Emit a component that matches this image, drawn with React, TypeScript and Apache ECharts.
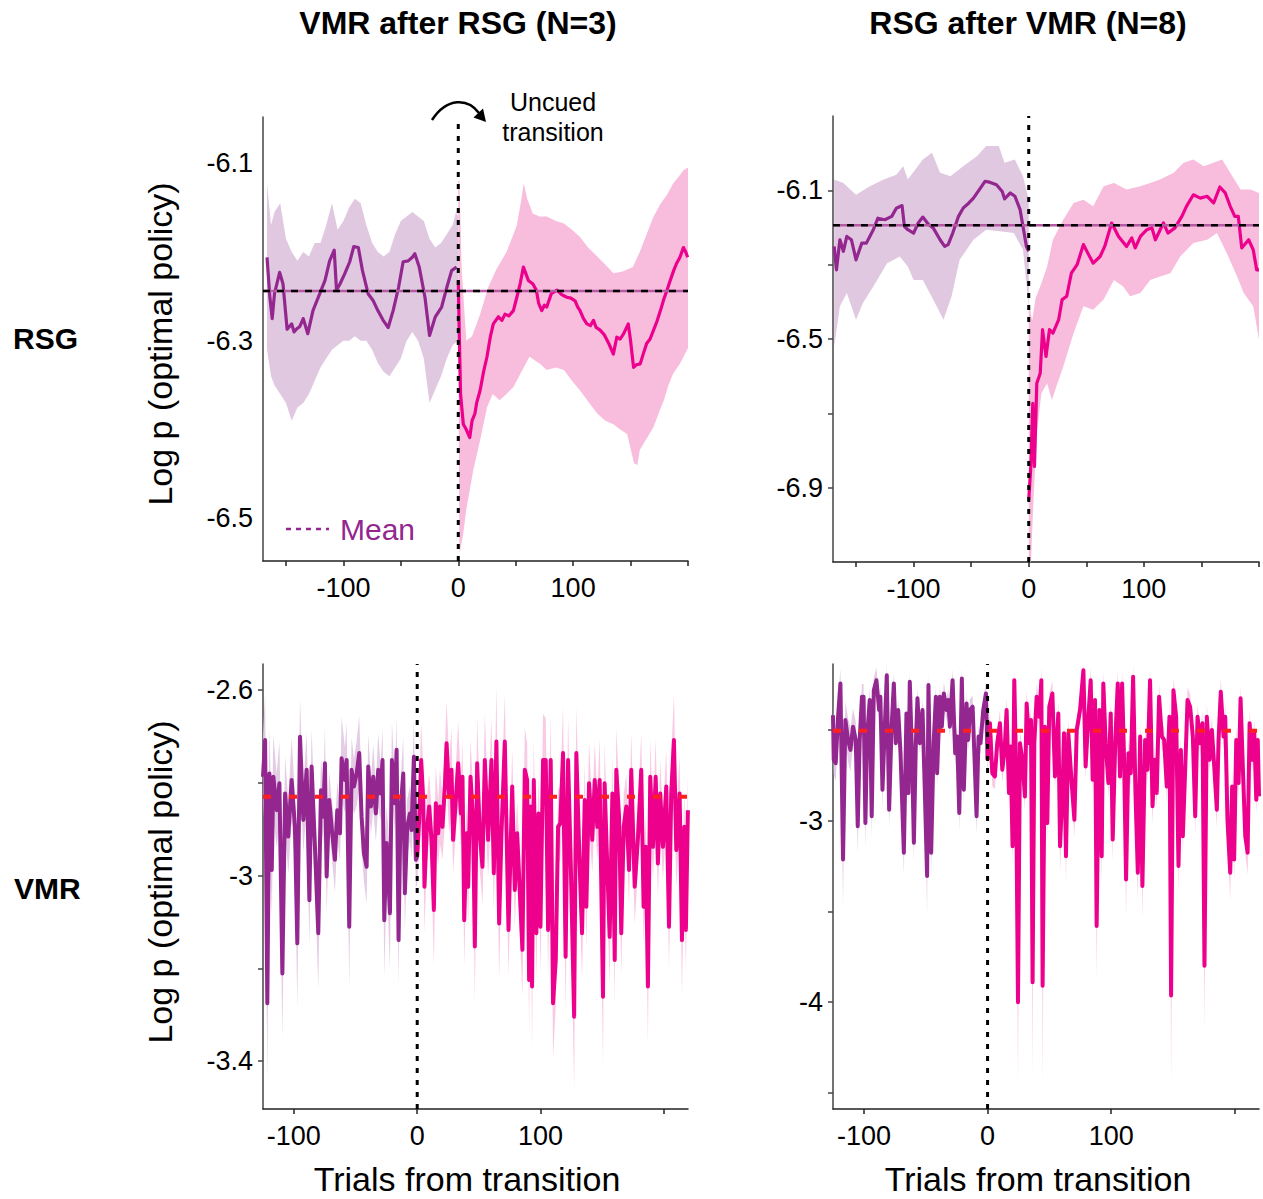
import React, { useEffect, useRef } from "react";
import * as echarts from "echarts";

const FONT = "'Liberation Sans', Arial, Helvetica, sans-serif";
const PURPLE = "#93278f";
const PINK = "#ec008c";
const PURPLE_BAND = "#e1c8e1";
const PINK_BAND = "#f8bddd";
const MEAN_MAUVE = "#b65aa5";
const MEAN_RED = "#ff1f1f";

const colTitles = ["VMR after RSG (N=3)", "RSG after VMR (N=8)"];
const rowTitles = ["RSG", "VMR"];
const yAxisTitle = "Log p (optimal policy)";
const xAxisTitle = "Trials from transition";
const transitionNote = ["Uncued", "transition"];
const legendLabel = "Mean";

const topXRange = [-170, 200];
const bottomXRange = [-125, 219.5];
const topXTicks = [-150, -100, -50, 0, 50, 100, 150, 200];
const bottomXTicks = [-100, 0, 100, 200];
const xLabels = [-100, 0, 100];

const tlYRange = [-6.548, -6.048];
const tlYLabels = [-6.5, -6.3, -6.1];
const trYRange = [-7.1, -5.9];
const trYTicks = [-6.9, -6.7, -6.5, -6.3, -6.1];
const trYLabels = [-6.9, -6.5, -6.1];
const blYRange = [-3.503, -2.544];
const blYTicks = [-3.4, -3.2, -3, -2.8, -2.6];
const blYLabels = [-3.4, -3, -2.6];
const brYRange = [-4.588, -2.138];
const brYTicks = [-4.5, -4, -3.5, -3, -2.5];
const brYLabels = [-4, -3];

const tlMean = -6.244;
const trMean = -6.194;
const blMean = -2.83;
const brMean = -2.505;

// ---------- Top-left (RSG, VMR after RSG) ----------
const tlPurple = [[-166.5,-6.206],[-164,-6.251],[-162,-6.275],[-160,-6.247],[-155.5,-6.223],[-152.6,-6.236],[-149,-6.287],[-145,-6.281],[-143,-6.29],[-141,-6.287],[-138,-6.284],[-135,-6.275],[-131,-6.292],[-126.5,-6.266],[-120.6,-6.247],[-116,-6.232],[-112,-6.21],[-108,-6.198],[-106,-6.243],[-103,-6.236],[-99,-6.225],[-94.5,-6.211],[-91,-6.194],[-87,-6.195],[-83.4,-6.221],[-78.5,-6.247],[-74,-6.255],[-70,-6.266],[-65.4,-6.277],[-61,-6.285],[-56.7,-6.266],[-52,-6.24],[-48,-6.211],[-43.6,-6.21],[-40,-6.206],[-37.8,-6.202],[-34,-6.217],[-29,-6.251],[-25,-6.294],[-20,-6.273],[-14.5,-6.262],[-10,-6.24],[-5.8,-6.221],[-1.5,-6.217]];
const tlPurpleUpper = [[-166.5,-6.123],[-163,-6.17],[-160,-6.155],[-155,-6.145],[-150,-6.185],[-145,-6.2],[-140,-6.21],[-135,-6.2],[-130,-6.205],[-125,-6.19],[-120,-6.19],[-115,-6.17],[-110,-6.145],[-105,-6.175],[-100,-6.165],[-95,-6.15],[-90,-6.14],[-85,-6.145],[-80,-6.17],[-75,-6.19],[-70,-6.2],[-65,-6.205],[-60,-6.2],[-55,-6.18],[-50,-6.165],[-45,-6.16],[-40,-6.155],[-35,-6.16],[-30,-6.165],[-25,-6.185],[-20,-6.195],[-15,-6.19],[-10,-6.18],[-5,-6.17],[-2,-6.155],[0,-6.16]];
const tlPurpleLower = [[-166.5,-6.31],[-163,-6.34],[-160,-6.35],[-155,-6.36],[-150,-6.37],[-145,-6.39],[-140,-6.375],[-135,-6.37],[-130,-6.36],[-125,-6.345],[-120,-6.33],[-115,-6.32],[-110,-6.31],[-105,-6.305],[-100,-6.3],[-95,-6.3],[-90,-6.295],[-85,-6.3],[-80,-6.3],[-75,-6.31],[-70,-6.325],[-65,-6.335],[-60,-6.34],[-55,-6.33],[-50,-6.32],[-45,-6.3],[-40,-6.29],[-35,-6.3],[-30,-6.32],[-25,-6.37],[-20,-6.355],[-15,-6.34],[-10,-6.32],[-5,-6.305],[0,-6.3]];
const tlPink = [[0,-6.232],[1,-6.3],[2,-6.36],[4.4,-6.394],[7,-6.4],[10,-6.409],[12,-6.39],[14.5,-6.382],[16,-6.37],[19,-6.356],[22,-6.335],[25,-6.318],[28,-6.295],[30.5,-6.281],[35,-6.273],[38,-6.277],[40.7,-6.27],[44,-6.272],[48,-6.266],[51,-6.251],[54,-6.235],[56.7,-6.217],[59,-6.225],[61,-6.232],[65,-6.236],[68,-6.243],[70,-6.258],[72.7,-6.266],[75,-6.26],[77,-6.262],[81,-6.247],[86,-6.243],[90,-6.248],[94.5,-6.251],[98,-6.252],[101.7,-6.255],[104,-6.262],[106,-6.266],[109,-6.275],[112,-6.281],[115,-6.283],[117.7,-6.277],[120,-6.285],[123.5,-6.288],[127,-6.293],[131,-6.303],[135,-6.315],[138,-6.296],[141,-6.298],[144,-6.292],[148,-6.281],[150,-6.3],[152.6,-6.33],[155,-6.327],[158.4,-6.326],[161,-6.315],[164,-6.303],[167,-6.298],[170,-6.288],[173,-6.278],[176,-6.266],[179,-6.253],[181.7,-6.243],[184.5,-6.232],[187.5,-6.221],[190,-6.213],[193,-6.206],[196,-6.195],[198,-6.2],[199.7,-6.206]];
const tlPinkUpper = [[0,-6.12],[1,-6.12],[3,-6.22],[7,-6.3],[12,-6.295],[19,-6.27],[26,-6.24],[33,-6.22],[42,-6.2],[51,-6.17],[55,-6.14],[57,-6.123],[60,-6.14],[65,-6.157],[71,-6.16],[77,-6.16],[85,-6.165],[92,-6.168],[99,-6.175],[106,-6.183],[113,-6.195],[121,-6.205],[130,-6.217],[135,-6.224],[143,-6.222],[152,-6.217],[158,-6.2],[164,-6.18],[170,-6.16],[176,-6.146],[182,-6.135],[187,-6.123],[192,-6.115],[196,-6.108],[200,-6.105]];
const tlPinkLower = [[0,-6.3],[1,-6.54],[4,-6.52],[7,-6.49],[13,-6.446],[19,-6.412],[25,-6.375],[30,-6.36],[36,-6.367],[42,-6.36],[48,-6.352],[55,-6.335],[62,-6.318],[71,-6.326],[77,-6.333],[85,-6.33],[92,-6.333],[99,-6.345],[106,-6.356],[114,-6.37],[121,-6.382],[128,-6.39],[135,-6.394],[141,-6.4],[147,-6.405],[153,-6.438],[156,-6.44],[158,-6.423],[164,-6.41],[170,-6.397],[175,-6.38],[179,-6.367],[183,-6.35],[187,-6.337],[193,-6.326],[200,-6.308]];

// ---------- Top-right (RSG, RSG after VMR) ----------
const trPurple = [[-169,-6.251],[-167,-6.314],[-164,-6.233],[-161,-6.264],[-158,-6.224],[-154,-6.233],[-150,-6.287],[-145,-6.242],[-141,-6.242],[-135,-6.206],[-131,-6.175],[-125,-6.179],[-119,-6.17],[-115,-6.148],[-110,-6.141],[-108,-6.197],[-105,-6.206],[-100,-6.215],[-96,-6.188],[-92,-6.172],[-87,-6.192],[-83,-6.201],[-77,-6.233],[-73,-6.251],[-70,-6.246],[-66,-6.215],[-61,-6.17],[-57,-6.148],[-52,-6.134],[-48,-6.121],[-42,-6.094],[-38,-6.076],[-34,-6.078],[-28,-6.085],[-23,-6.103],[-21,-6.123],[-16,-6.107],[-12,-6.116],[-7.5,-6.152],[-4,-6.215],[-2,-6.251],[0,-6.264]];
const trPurpleUpper = [[-169,-6.071],[-161,-6.08],[-150,-6.112],[-138,-6.089],[-126,-6.071],[-115,-6.058],[-109,-6.035],[-105,-6.071],[-92,-6.017],[-84,-5.999],[-77,-6.053],[-68,-6.062],[-57,-6.035],[-45,-6.008],[-37,-5.981],[-26,-5.981],[-21,-6.026],[-12,-6.017],[-5,-6.062],[0,-6.125]];
const trPurpleLower = [[-169,-6.52],[-164,-6.412],[-158,-6.376],[-150,-6.448],[-144,-6.403],[-135,-6.359],[-123,-6.296],[-112,-6.278],[-105,-6.305],[-100,-6.341],[-92,-6.341],[-83,-6.394],[-74,-6.448],[-67,-6.385],[-60,-6.287],[-48,-6.233],[-37,-6.206],[-25,-6.21],[-13,-6.215],[-5,-6.26],[0,-6.412]];
const trPink = [[0,-6.933],[2,-6.834],[3.5,-6.673],[5,-6.843],[7,-6.619],[10,-6.592],[12,-6.475],[15,-6.547],[18,-6.475],[21,-6.484],[26,-6.448],[29,-6.394],[33,-6.385],[37,-6.323],[42,-6.3],[47.5,-6.246],[52,-6.273],[56,-6.296],[62,-6.278],[66,-6.251],[72,-6.188],[78,-6.224],[85,-6.251],[89.5,-6.228],[92.5,-6.255],[97,-6.224],[102.6,-6.206],[107,-6.201],[110,-6.233],[117,-6.188],[121,-6.215],[127,-6.201],[133,-6.17],[137,-6.143],[143,-6.112],[149,-6.121],[155,-6.116],[160.6,-6.134],[166,-6.091],[170.7,-6.107],[175,-6.143],[179,-6.17],[182,-6.17],[185,-6.255],[191,-6.233],[195,-6.26],[198,-6.314],[200,-6.314]];
const trPinkUpper = [[0,-6.4],[3,-6.45],[6,-6.39],[10,-6.359],[16,-6.305],[21,-6.233],[30,-6.179],[39,-6.134],[47.5,-6.125],[56,-6.143],[65,-6.089],[74,-6.08],[85,-6.098],[97,-6.089],[105.5,-6.08],[114,-6.071],[126,-6.053],[134.5,-6.026],[143,-6.017],[152,-6.035],[168,-6.017],[175,-6.053],[184,-6.098],[192.5,-6.098],[200,-6.107]];
const trPinkLower = [[0,-7.1],[2,-7.1],[3.5,-6.978],[7,-6.754],[11,-6.646],[16,-6.619],[20,-6.664],[24,-6.628],[30,-6.574],[39,-6.484],[47.5,-6.412],[56,-6.421],[65,-6.394],[74,-6.341],[82,-6.359],[88,-6.385],[97,-6.376],[105.5,-6.341],[114,-6.332],[123,-6.323],[131.6,-6.278],[143,-6.242],[155,-6.233],[163.5,-6.215],[172,-6.269],[181,-6.332],[186.7,-6.376],[195,-6.412],[200,-6.502]];

// ---------- Bottom-left (VMR, VMR after RSG): [trial, mean, sem] ----------
const blPurple = [[-125,-2.787,0.09],[-123.3,-2.708,0.1],[-121.5,-3.275,0.17],[-119.8,-2.78,0.1],[-117.9,-2.988,0.1],[-116.6,-2.787,0.09],[-113.9,-2.859,0.08],[-111.7,-2.801,0.09],[-109.3,-3.211,0.14],[-107.1,-2.823,0.08],[-104.5,-2.916,0.08],[-101.8,-2.794,0.09],[-99.1,-2.895,0.07],[-97.2,-3.146,0.14],[-95,-2.701,0.08],[-92.3,-2.88,0.07],[-89.6,-2.772,0.08],[-87.4,-3.053,0.1],[-85.6,-2.765,0.08],[-82.9,-2.938,0.07],[-80.2,-3.124,0.12],[-78,-2.816,0.07],[-76.1,-2.873,0.06],[-74.8,-2.758,0.08],[-73.4,-3.002,0.08],[-71.3,-2.837,0.06],[-69.4,-2.895,0.06],[-66.7,-2.966,0.07],[-64.8,-2.859,0.06],[-62.6,-2.909,0.06],[-61.3,-2.747,0.09],[-58.6,-2.794,0.07],[-57.2,-2.751,0.08],[-55.1,-3.11,0.13],[-53.2,-2.772,0.07],[-51.3,-2.808,0.06],[-49.1,-2.78,0.07],[-47,-2.736,0.08],[-45.1,-2.873,0.07],[-43.2,-2.952,0.06],[-41,-2.981,0.08],[-39.7,-2.765,0.07],[-37.5,-2.851,0.06],[-35.6,-2.787,0.07],[-33.5,-2.866,0.06],[-31.6,-2.772,0.08],[-29.7,-2.823,0.06],[-28.1,-2.751,0.07],[-26.7,-3.096,0.12],[-24.8,-2.93,0.08],[-23.5,-2.995,0.1],[-22.1,-3.081,0.12],[-20.5,-2.751,0.08],[-18.1,-2.844,0.06],[-16.7,-2.729,0.07],[-15.1,-3.139,0.1],[-13.5,-2.859,0.06],[-11.3,-2.78,0.08],[-10,-3.038,0.08],[-8.1,-2.895,0.06],[-5.9,-2.866,0.06],[-4.6,-2.902,0.06],[-2.7,-2.744,0.08],[-1.1,-2.966,0.06],[0,-2.959,0.06]];
const blPink = [[0,-2.959,0.06],[1.6,-2.88,0.07],[3.2,-2.751,0.08],[4.9,-2.837,0.07],[5.9,-3.024,0.1],[7.6,-2.909,0.07],[9.7,-2.851,0.07],[11.6,-2.923,0.07],[13.5,-3.074,0.12],[15.1,-2.844,0.08],[17,-2.909,0.07],[18.4,-2.851,0.08],[20.5,-2.895,0.07],[22.4,-2.808,0.08],[23.8,-2.715,0.09],[25.9,-2.83,0.08],[27.8,-2.772,0.09],[29.1,-2.923,0.07],[31.3,-2.837,0.07],[33.2,-2.758,0.09],[35.4,-2.866,0.07],[36.7,-2.787,0.08],[38.1,-3.096,0.1],[40,-2.909,0.07],[41.3,-3.024,0.08],[43.2,-2.787,0.08],[45.3,-2.88,0.07],[46.7,-3.153,0.12],[48.6,-2.758,0.1],[50.7,-2.909,0.08],[52.9,-2.981,0.08],[54.8,-2.751,0.1],[57.5,-2.923,0.08],[60.2,-2.751,0.09],[62.1,-2.995,0.08],[64.2,-2.711,0.12],[66.4,-3.103,0.12],[68.3,-2.909,0.08],[71,-2.711,0.1],[74,-3.117,0.1],[77,-2.808,0.08],[79.1,-3.031,0.08],[81,-2.909,0.07],[83.2,-3.038,0.09],[85.3,-3.16,0.1],[87.2,-2.772,0.09],[89.1,-2.794,0.08],[90.7,-3.225,0.12],[91.8,-2.851,0.09],[93.1,-3.239,0.14],[94.5,-2.794,0.09],[96.6,-3.124,0.1],[98.3,-2.866,0.08],[99.9,-3.11,0.1],[102,-2.751,0.1],[104.2,-2.751,0.09],[106.1,-3.117,0.1],[108.2,-2.751,0.1],[110.1,-3.275,0.12],[112.3,-3.182,0.1],[114.2,-2.895,0.08],[116,-2.887,0.08],[118.2,-2.736,0.1],[120.3,-3.175,0.12],[122.3,-2.751,0.09],[124.4,-2.966,0.08],[127.2,-3.304,0.16],[129,-2.736,0.1],[131.7,-2.981,0.08],[133.6,-3.124,0.1],[135.8,-2.837,0.08],[137.1,-3.067,0.09],[139.3,-2.801,0.09],[141.9,-2.923,0.07],[143.9,-2.794,0.08],[146,-2.895,0.07],[147.9,-2.794,0.09],[150.6,-3.261,0.15],[151.9,-2.801,0.09],[153.9,-2.966,0.08],[156,-3.132,0.1],[158.2,-2.823,0.08],[160.1,-3.182,0.1],[161.4,-2.772,0.09],[163.6,-2.873,0.07],[165.4,-3.124,0.09],[167.4,-2.895,0.07],[169.5,-2.851,0.07],[171.7,-2.988,0.07],[173.5,-2.772,0.08],[176.3,-3.024,0.08],[179,-2.916,0.07],[181.6,-2.772,0.08],[183.5,-3.067,0.08],[185.2,-2.938,0.07],[187,-3.239,0.12],[188.9,-2.787,0.08],[191.1,-2.938,0.07],[193.3,-2.787,0.08],[195.1,-2.974,0.07],[197,-2.823,0.07],[199.2,-2.938,0.07],[201.9,-2.808,0.08],[204.1,-3.11,0.09],[205.9,-2.823,0.08],[208.1,-2.708,0.1],[210,-2.945,0.08],[212.7,-2.823,0.08],[214.6,-3.139,0.12],[216.5,-2.895,0.08],[217.8,-3.117,0.09],[219.4,-2.859,0.08]];

// ---------- Bottom-right (VMR, RSG after VMR): [trial, mean, sem] ----------
const brPurple = [[-125,-2.42,0.1],[-124.4,-2.665,0.08],[-122.8,-2.684,0.1],[-120.9,-2.428,0.1],[-119,-2.245,0.08],[-116.9,-3.214,0.25],[-115,-2.446,0.1],[-112.8,-2.556,0.12],[-110.9,-2.611,0.12],[-108.8,-2.483,0.1],[-106.6,-2.556,0.1],[-105,-3.031,0.15],[-103.4,-2.556,0.08],[-101.6,-2.318,0.07],[-100.3,-2.318,0.07],[-98.8,-3.013,0.14],[-97.4,-2.537,0.07],[-95.3,-2.336,0.07],[-93.7,-2.976,0.12],[-92,-2.282,0.07],[-89.9,-2.227,0.07],[-87.7,-2.391,0.06],[-86.7,-2.318,0.06],[-85,-2.83,0.1],[-83.1,-2.483,0.06],[-81.5,-2.2,0.07],[-79.6,-2.94,0.1],[-77.7,-2.501,0.06],[-75.8,-2.245,0.06],[-74.2,-2.574,0.06],[-72.3,-2.391,0.06],[-70.4,-2.629,0.07],[-67.7,-3.177,0.12],[-65.6,-2.41,0.06],[-64,-2.848,0.08],[-62.9,-2.236,0.06],[-61,-2.665,0.06],[-59.6,-3.122,0.1],[-58,-2.574,0.06],[-56.7,-2.327,0.06],[-54.8,-2.574,0.06],[-52.6,-2.391,0.06],[-50.7,-2.848,0.08],[-48.9,-3.305,0.2],[-47.8,-2.254,0.07],[-45.6,-3.177,0.12],[-43.6,-2.574,0.07],[-41.8,-2.318,0.06],[-40.8,-2.739,0.07],[-38.6,-2.318,0.06],[-37,-2.483,0.06],[-35.4,-2.3,0.06],[-33.2,-2.391,0.06],[-31.8,-2.336,0.06],[-30.5,-2.483,0.06],[-28.3,-2.227,0.06],[-26.2,-2.629,0.07],[-24.6,-2.537,0.06],[-22.9,-2.958,0.1],[-20.8,-2.218,0.06],[-19.2,-2.83,0.08],[-17,-2.355,0.06],[-15.7,-2.556,0.06],[-14.3,-2.391,0.06],[-12.1,-2.373,0.06],[-10.5,-2.665,0.07],[-8.9,-2.976,0.1],[-7.3,-2.537,0.06],[-5.7,-2.574,0.06],[-3.5,-2.391,0.06],[-1.3,-2.3,0.06],[0,-2.665,0.07]];
const brPink = [[0,-2.665,0.07],[1.9,-2.464,0.07],[3.8,-2.739,0.07],[5.9,-2.757,0.07],[7.8,-2.574,0.07],[10,-2.464,0.07],[11.9,-2.72,0.07],[13.8,-2.611,0.07],[15.4,-2.391,0.07],[17.3,-2.848,0.08],[18.6,-2.592,0.07],[20.2,-3.141,0.12],[21.6,-2.227,0.07],[22.9,-2.665,0.07],[24.6,-4,0.45],[26.2,-2.574,0.07],[28.1,-2.665,0.07],[30.2,-2.867,0.08],[31.6,-2.355,0.07],[33.7,-2.574,0.07],[35.1,-2.446,0.07],[36.4,-3.89,0.5],[37.8,-2.574,0.07],[39.7,-2.318,0.07],[41.8,-2.428,0.07],[43.5,-2.227,0.07],[44.5,-3.909,0.55],[46.4,-2.483,0.07],[48.3,-3.013,0.1],[49.9,-2.373,0.07],[52.4,-2.3,0.07],[54.5,-2.757,0.07],[57.2,-2.41,0.07],[58.6,-3.141,0.15],[60.7,-2.812,0.08],[61.8,-2.519,0.07],[63.4,-3.196,0.15],[65.3,-2.519,0.07],[68,-2.793,0.08],[70.2,-2.995,0.1],[72.1,-2.501,0.07],[74.8,-2.391,0.07],[77.5,-2.172,0.07],[79.3,-2.702,0.07],[81.5,-2.428,0.07],[83.4,-2.227,0.07],[85,-2.775,0.08],[86.9,-2.336,0.07],[88.2,-3.58,0.3],[90.4,-2.391,0.07],[92.3,-3.196,0.15],[93.6,-2.245,0.07],[95.5,-2.574,0.07],[97.7,-2.793,0.08],[99.6,-2.41,0.07],[101.2,-3.104,0.12],[103.3,-2.556,0.07],[105.3,-2.245,0.07],[107.1,-2.757,0.08],[108.8,-2.245,0.07],[110.4,-2.665,0.07],[112,-3.324,0.2],[113.9,-2.629,0.07],[115.8,-2.739,0.08],[117.7,-2.208,0.07],[119.6,-2.848,0.08],[121.5,-3.287,0.15],[123.4,-2.537,0.07],[125.2,-3.36,0.18],[127.4,-2.556,0.07],[129.3,-2.72,0.07],[131.4,-2.227,0.07],[133.4,-2.921,0.1],[135.2,-2.665,0.07],[136.8,-2.848,0.08],[138.7,-2.318,0.07],[140.9,-2.537,0.07],[142.8,-2.556,0.07],[144.9,-2.812,0.08],[147.1,-2.428,0.07],[148.4,-3.963,0.5],[150.3,-2.282,0.07],[152.5,-2.428,0.07],[154.4,-3.25,0.15],[156.3,-2.611,0.07],[157.9,-3.086,0.1],[159.8,-2.72,0.07],[161.7,-2.336,0.07],[163.8,-2.373,0.07],[166,-2.537,0.07],[167.9,-2.976,0.1],[169.8,-2.428,0.07],[171.9,-2.574,0.07],[173.8,-2.464,0.07],[175.4,-3.799,0.35],[177.3,-2.428,0.07],[179.5,-2.665,0.07],[181.4,-2.501,0.07],[183.3,-2.702,0.07],[185.4,-2.94,0.1],[186.8,-2.556,0.07],[188.6,-2.291,0.07],[190.8,-2.537,0.07],[192.2,-2.428,0.07],[194,-2.995,0.1],[196.2,-3.287,0.15],[197.8,-2.812,0.08],[199.4,-3.214,0.12],[201.1,-2.556,0.07],[203,-2.793,0.08],[204.6,-2.327,0.07],[206.5,-2.72,0.07],[208.4,-3.086,0.1],[210.3,-3.177,0.12],[211.9,-2.464,0.07],[213.8,-2.665,0.07],[215.7,-2.519,0.07],[217.3,-2.885,0.08],[218.5,-2.556,0.07],[219.5,-2.867,0.08]];

const GRIDS = [
  { left: 263, top: 117, width: 425, height: 444 },
  { left: 833, top: 116, width: 426, height: 446 },
  { left: 263, top: 664, width: 425, height: 445 },
  { left: 833, top: 664, width: 426, height: 445 },
];

function bandSeries(idx: number, upper: number[][], lower: number[][], fill: string, opacity: number) {
  const poly = upper.concat(lower.slice().reverse());
  return {
    type: "custom",
    xAxisIndex: idx,
    yAxisIndex: idx,
    silent: true,
    clip: true,
    z: 1,
    data: [poly[0]],
    renderItem: (_p: any, api: any) => {
      const points = poly.map((p) => api.coord(p));
      return { type: "polygon", shape: { points }, style: { fill, opacity } };
    },
  };
}

function semBand(idx: number, rows: number[][], yr: number[], fill: string, opacity: number) {
  const up = rows.map((r) => [r[0], Math.min(r[1] + r[2], yr[1])]);
  const lo = rows.map((r) => [r[0], Math.max(r[1] - r[2], yr[0])]);
  return bandSeries(idx, up, lo, fill, opacity);
}

function lineSeries(idx: number, data: number[][], color: string, width: number, z = 3) {
  return {
    type: "line",
    xAxisIndex: idx,
    yAxisIndex: idx,
    data: data.map((r) => [r[0], r[1]]),
    showSymbol: false,
    symbol: "none",
    silent: true,
    clip: true,
    z,
    lineStyle: { color, width, join: "round" },
  };
}

function hLine(idx: number, xr: number[], y: number, color: string, width: number, dash: any, z: number) {
  return {
    type: "line",
    xAxisIndex: idx,
    yAxisIndex: idx,
    data: [[xr[0], y], [xr[1], y]],
    showSymbol: false,
    symbol: "none",
    silent: true,
    z,
    lineStyle: { color, width, type: dash, opacity: 1 },
  };
}

function vLine(idx: number, yr: number[]) {
  return {
    type: "line",
    xAxisIndex: idx,
    yAxisIndex: idx,
    data: [[0, yr[0]], [0, yr[1]]],
    showSymbol: false,
    symbol: "none",
    silent: true,
    z: 6,
    lineStyle: { color: "#000", width: 3, type: [5, 7] },
  };
}

function xAxisCfg(idx: number, xr: number[], ticks: number[]) {
  return {
    type: "value",
    gridIndex: idx,
    min: xr[0],
    max: xr[1],
    splitLine: { show: false },
    axisLine: { show: true, onZero: false, lineStyle: { color: "#222", width: 1.5 } },
    axisTick: { show: true, length: 5, customValues: ticks, lineStyle: { color: "#222", width: 1.5 } },
    axisLabel: { customValues: xLabels, fontSize: 27, color: "#000", fontFamily: FONT, margin: 13 },
  };
}

function yAxisCfg(idx: number, yr: number[], ticks: number[] | null, labels: number[]) {
  return {
    type: "value",
    gridIndex: idx,
    min: yr[0],
    max: yr[1],
    splitLine: { show: false },
    axisLine: { show: true, onZero: false, lineStyle: { color: "#444", width: 1.5 } },
    axisTick: ticks
      ? { show: true, length: 5, customValues: ticks, lineStyle: { color: "#444", width: 1.5 } }
      : { show: false },
    axisLabel: { customValues: labels, fontSize: 27, color: "#000", fontFamily: FONT, margin: 10 },
  };
}

function txt(x: number, y: number, text: string, size: number, opts: any = {}) {
  return {
    type: "text",
    x,
    y,
    silent: true,
    rotation: opts.rotation || 0,
    style: {
      text,
      fontSize: size,
      fontFamily: FONT,
      fontWeight: opts.bold ? "bold" : "normal",
      fill: opts.fill || "#000",
      align: opts.align || "center",
      verticalAlign: "middle",
    },
  };
}

export default function App() {
  const ref = useRef<HTMLDivElement>(null);
  useEffect(() => {
    if (!ref.current) return;
    const chart = echarts.init(ref.current, null, { renderer: "svg" });
    const series: any[] = [
      // top-left
      bandSeries(0, tlPurpleUpper, tlPurpleLower, PURPLE_BAND, 1),
      bandSeries(0, tlPinkUpper, tlPinkLower, PINK_BAND, 1),
      lineSeries(0, tlPurple, PURPLE, 3.2),
      lineSeries(0, tlPink, PINK, 3.2),
      hLine(0, topXRange, tlMean, MEAN_MAUVE, 2.5, "solid", 4),
      hLine(0, topXRange, tlMean, "#000", 2.5, [7, 7], 5),
      vLine(0, tlYRange),
      // top-right
      bandSeries(1, trPurpleUpper, trPurpleLower, PURPLE_BAND, 1),
      bandSeries(1, trPinkUpper, trPinkLower, PINK_BAND, 1),
      lineSeries(1, trPurple, PURPLE, 3.2),
      lineSeries(1, trPink, PINK, 3.2),
      hLine(1, topXRange, trMean, MEAN_MAUVE, 2.5, "solid", 4),
      hLine(1, topXRange, trMean, "#000", 2.5, [7, 7], 5),
      vLine(1, trYRange),
      // bottom-left
      semBand(2, blPurple, blYRange, PURPLE_BAND, 0.9),
      semBand(2, blPink, blYRange, PINK_BAND, 0.8),
      lineSeries(2, blPurple, PURPLE, 4),
      lineSeries(2, blPink, PINK, 4),
      hLine(2, bottomXRange, blMean, MEAN_RED, 4, [8, 18], 10),
      vLine(2, blYRange),
      // bottom-right
      semBand(3, brPurple, brYRange, PURPLE_BAND, 0.9),
      semBand(3, brPink, brYRange, PINK_BAND, 0.8),
      lineSeries(3, brPurple, PURPLE, 4),
      lineSeries(3, brPink, PINK, 4),
      hLine(3, bottomXRange, brMean, MEAN_RED, 4, [8, 18], 10),
      vLine(3, brYRange),
    ];
    const graphic: any[] = [
      txt(458, 23, colTitles[0], 32, { bold: true }),
      txt(1028, 23, colTitles[1], 32, { bold: true }),
      txt(13, 338, rowTitles[0], 30, { bold: true, align: "left" }),
      txt(14, 888, rowTitles[1], 30, { bold: true, align: "left" }),
      txt(160, 344, yAxisTitle, 34, { rotation: Math.PI / 2 }),
      txt(160, 882, yAxisTitle, 34, { rotation: Math.PI / 2 }),
      txt(467, 1179, xAxisTitle, 34),
      txt(1038, 1179, xAxisTitle, 34),
      txt(553, 102, transitionNote[0], 25),
      txt(553, 132, transitionNote[1], 25),
      {
        type: "bezierCurve",
        silent: true,
        shape: { x1: 432, y1: 120, cpx1: 447, cpy1: 97, cpx2: 468, cpy2: 98, x2: 479, y2: 113 },
        style: { stroke: "#000", lineWidth: 2.5, fill: null },
      },
      {
        type: "polygon",
        silent: true,
        shape: { points: [[486, 122], [483, 108.5], [473.5, 117.5]] },
        style: { fill: "#000" },
      },
      {
        type: "line",
        silent: true,
        shape: { x1: 286, y1: 529, x2: 329, y2: 529 },
        style: { stroke: PURPLE, lineWidth: 2.5, lineDash: [5, 5] },
      },
      txt(340, 529, legendLabel, 30, { align: "left", fill: PURPLE }),
    ];
    chart.setOption({
      animation: false,
      backgroundColor: "#fff",
      textStyle: { fontFamily: FONT },
      grid: GRIDS.map((g) => ({ ...g, containLabel: false, outerBoundsMode: "none" })),
      xAxis: [
        xAxisCfg(0, topXRange, topXTicks),
        xAxisCfg(1, topXRange, topXTicks),
        xAxisCfg(2, bottomXRange, bottomXTicks),
        xAxisCfg(3, bottomXRange, bottomXTicks),
      ],
      yAxis: [
        yAxisCfg(0, tlYRange, null, tlYLabels),
        yAxisCfg(1, trYRange, trYTicks, trYLabels),
        yAxisCfg(2, blYRange, blYTicks, blYLabels),
        yAxisCfg(3, brYRange, brYTicks, brYLabels),
      ],
      series,
      graphic,
    });
    return () => chart.dispose();
  }, []);
  return (
    <div
      ref={ref}
      style={{ position: "absolute", left: 0, top: 0, width: 1263, height: 1199, background: "#fff" }}
    />
  );
}
